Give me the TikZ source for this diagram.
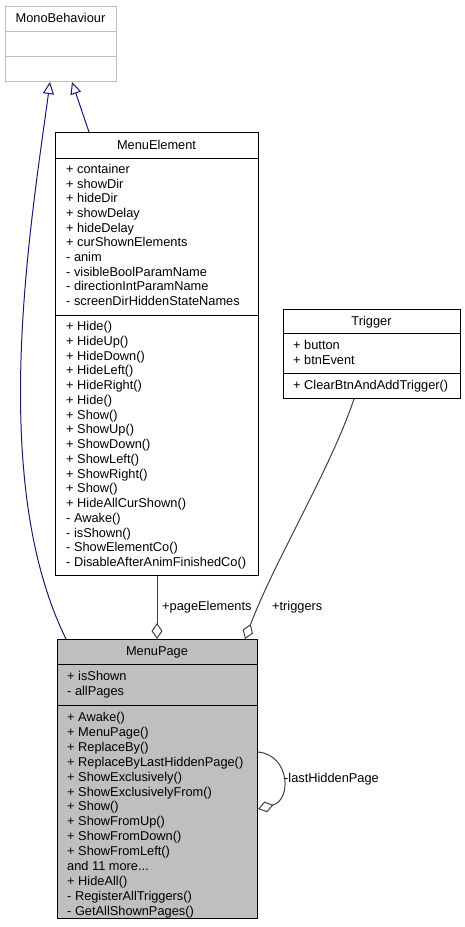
\documentclass[tikz,border=0pt]{standalone}
\usepackage{fontspec}
\setmainfont{Liberation Sans}
\usetikzlibrary{arrows.meta,calc}
\definecolor{navyline}{RGB}{25,25,112}
\definecolor{edgegray}{RGB}{64,64,64}
\definecolor{pagefill}{RGB}{191,191,191}
\definecolor{lightborder}{RGB}{191,191,191}
\newcommand\umlfont{\fontsize{12.8}{14.8}\selectfont}
\newcommand\umlrows[5]{%
  \foreach \rowtext [count=\i] in {#5} {
    \node[txt] (#1-\i) at (#2, {#3+#4*(\i-1)}) {\rowtext};
  }}
\begin{document}
\begin{tikzpicture}[x=1pt,y=-1pt,
  box/.style={draw=black, line width=1pt, inner sep=0pt, anchor=north west},
  lightbox/.style={draw=lightborder, line width=1pt, inner sep=0pt, anchor=north west},
  divider/.style={draw=black, line width=1pt},
  lightdivider/.style={draw=lightborder, line width=1pt},
  txt/.style={anchor=base west, inner sep=0pt, font=\umlfont},
  ttl/.style={anchor=base, inner sep=0pt, font=\umlfont},
  inherit/.style={draw=navyline, line width=1pt, -{Triangle[open,length=12pt,width=11pt]}},
  aggr/.style={draw=edgegray, line width=1pt, {Diamond[open,length=16pt,width=11pt]}-},
  lbl/.style={anchor=base west, inner sep=0pt, font=\umlfont}]
\useasboundingbox (0,0) rectangle (465,927);

% MonoBehaviour
\node[lightbox, minimum width=111pt, minimum height=75pt] (mono) at (5,6) {};
\draw[lightdivider] ($(mono.north west)+(0,25)$) -- ($(mono.north east)+(0,25)$);
\draw[lightdivider] ($(mono.north west)+(0,50)$) -- ($(mono.north east)+(0,50)$);
\node[ttl] (mono-title) at (60.5,22.5) {MonoBehaviour};

% MenuElement
\node[box, minimum width=203pt, minimum height=443pt] (me) at (55,132) {};
\draw[divider] ($(me.north west)+(0,26)$) -- ($(me.north east)+(0,26)$);
\draw[divider] ($(me.north west)+(0,183)$) -- ($(me.north east)+(0,183)$);
\node[ttl] (me-title) at (156.5,149.5) {MenuElement};
\umlrows{mea}{66}{173.5}{14.68}{+ container,+ showDir,+ hideDir,+ showDelay,+ hideDelay,+ curShownElements,- anim,- visibleBoolParamName,- directionIntParamName,- screenDirHiddenStateNames}
\umlrows{mem}{66}{330.5}{14.75}{+ Hide(),+ HideUp(),+ HideDown(),+ HideLeft(),+ HideRight(),+ Hide(),+ Show(),+ ShowUp(),+ ShowDown(),+ ShowLeft(),+ ShowRight(),+ Show(),+ HideAllCurShown(),- Awake(),- isShown(),- ShowElementCo(),- DisableAfterAnimFinishedCo()}

% Trigger
\node[box, minimum width=177pt, minimum height=89pt] (trig) at (283,309) {};
\draw[divider] ($(trig.north west)+(0,24)$) -- ($(trig.north east)+(0,24)$);
\draw[divider] ($(trig.north west)+(0,64)$) -- ($(trig.north east)+(0,64)$);
\node[ttl] (trig-title) at (371.5,325.5) {Trigger};
\umlrows{tra}{293}{349.5}{14.75}{+ button,+ btnEvent}
\umlrows{trm}{293}{389.5}{14.75}{+ ClearBtnAndAddTrigger()}

% MenuPage
\node[box, fill=pagefill, minimum width=200pt, minimum height=279pt] (mp) at (57,639) {};
\draw[divider] ($(mp.north west)+(0,25)$) -- ($(mp.north east)+(0,25)$);
\draw[divider] ($(mp.north west)+(0,66)$) -- ($(mp.north east)+(0,66)$);
\node[ttl] (mp-title) at (157,655.5) {MenuPage};
\umlrows{mpa}{67}{680.5}{14.75}{+ isShown,- allPages}
\umlrows{mpm}{67}{721.5}{14.9}{+ Awake(),+ MenuPage(),+ ReplaceBy(),+ ReplaceByLastHiddenPage(),+ ShowExclusively(),+ ShowExclusivelyFrom(),+ Show(),+ ShowFromUp(),+ ShowFromDown(),+ ShowFromLeft(),{and 11 more.{}.{}.},+ HideAll(),- RegisterAllTriggers(),- GetAllShownPages()}

% inheritance
\draw[inherit] ($(me.north west)+(34,0)$) -- ($(mono.south west)+(67,0)$);
\draw[inherit] ($(mp.north west)+(9,0)$) .. controls (-12,480) and (30,230) .. ($(mono.south west)+(45,0)$);

% aggregations
\draw[aggr] ($(mp.north west)+(100,0)$) -- ($(me.south west)+(102,0)$);
\node[lbl] (lbl-pe) at (162,610.5) {+pageElements};
\draw[aggr] ($(mp.north west)+(188,0)$) .. controls (275,560) and (330,470) .. ($(trig.south west)+(71,0)$);
\node[lbl] (lbl-tr) at (272,610.5) {+triggers};
\draw[aggr] ($(mp.north east)+(0,170)$) .. controls (292,800) and (290,755) .. ($(mp.north east)+(0,113)$);
\node[lbl] (lbl-lh) at (284,782.5) {-lastHiddenPage};
\end{tikzpicture}
\end{document}
